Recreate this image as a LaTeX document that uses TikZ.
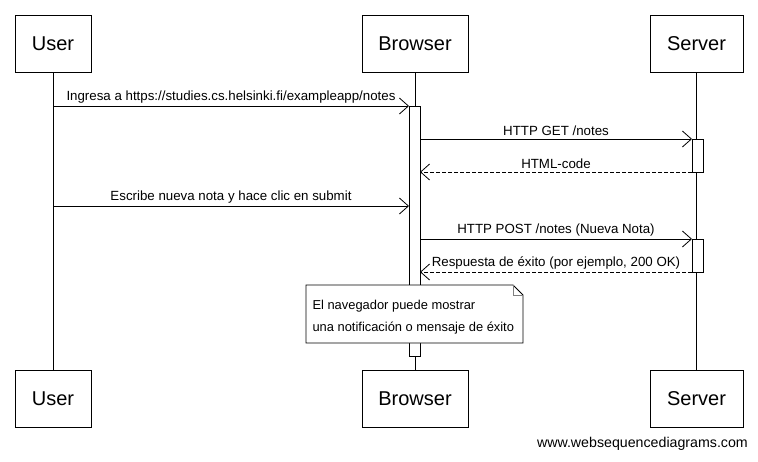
\documentclass[tikz,border=0pt]{standalone}
\usepackage{fontspec}
\setmainfont{Liberation Sans}
\usetikzlibrary{arrows.meta, positioning}

\begin{document}
\begin{tikzpicture}[
		x=1pt, y=-1pt,
		every node/.style={font=\fontsize{13.3}{16}\selectfont},
		actor/.style={draw, line width=0.8pt, minimum height=57pt, inner sep=0pt, font=\fontsize{20}{24}\selectfont},
		life/.style={line width=0.8pt},
		act/.style={draw, fill=white, line width=0.8pt, minimum width=11pt, inner sep=0pt},
		msg/.style={-{Straight Barb[length=9pt, width=16pt]}, line width=0.8pt},
		reply/.style={msg, dash pattern=on 4pt off 2pt},
		lbl/.style={above, inner sep=2.5pt}
		]
		
		\useasboundingbox (0,0) rectangle (758,461);
		
		% === PARTICIPANTS ===
		
		% Top row
		\node [actor, minimum width=76pt] (userTop) at (53,43.5) {User};
		\node [actor, minimum width=106pt] (browserTop) at (415,43.5) {Browser};
		\node [actor, minimum width=93pt] (serverTop) at (696.5,43.5) {Server};
		
		% Bottom row
		\node [actor, minimum width=76pt] (userBot) at (53,398.5) {User};
		\node [actor, minimum width=106pt] (browserBot) at (415,398.5) {Browser};
		\node [actor, minimum width=93pt] (serverBot) at (696.5,398.5) {Server};
		
		% === LIFELINES ===
		\draw[life] (userTop) -- (userBot);
		\draw[life] (browserTop) -- (browserBot);
		\draw[life] (serverTop) -- (serverBot);
		
		% === ACTIVATIONS ===
		\node [act, minimum height=250pt] (browserAct) at (414.5,231) {};
		\node [act, minimum height=33pt] (serverAct1) at (697.5,155.5) {};
		\node [act, minimum height=33pt] (serverAct2) at (697.5,255.5) {};
		
		% === MESSAGE END POINTS ===
		\coordinate (m1a) at (53,106);   \coordinate (m1b) at (409,106);
		\coordinate (m2a) at (420,139);  \coordinate (m2b) at (692,139);
		\coordinate (m3a) at (692,172);  \coordinate (m3b) at (420,172);
		\coordinate (m4a) at (53,206);   \coordinate (m4b) at (409,206);
		\coordinate (m5a) at (420,239);  \coordinate (m5b) at (692,239);
		\coordinate (m6a) at (692,272);  \coordinate (m6b) at (420,272);
		
		% === MESSAGES ===
		\draw[msg] (m1a) -- node[lbl] {Ingresa a https://studies.cs.helsinki.fi/exampleapp/notes} (m1b);
		\draw[msg] (m2a) -- node[lbl] {HTTP GET /notes} (m2b);
		\draw[reply] (m3a) -- node[lbl] {HTML-code} (m3b);
		\draw[msg] (m4a) -- node[lbl] {Escribe nueva nota y hace clic en submit} (m4b);
		\draw[msg] (m5a) -- node[lbl] {HTTP POST /notes (Nueva Nota)} (m5b);
		\draw[reply] (m6a) -- node[lbl] {Respuesta de éxito (por ejemplo, 200 OK)} (m6b);
		
		% === NOTE ===
		\draw[line width=0.8pt, fill=white] (306,285) -- (513,285) -- (523,295) -- (523,343) -- (306,343) -- cycle;
		\draw[line width=0.8pt, gray] (513,285) -- (513,295) -- (523,295);
		\node [anchor=west, align=left, font=\fontsize{12.9}{21.5}\selectfont] (note) at (309,317)
		{El navegador puede mostrar\\una notificación o mensaje de éxito};
		
		% === FOOTER ===
		\node [anchor=south east, inner sep=0pt, font=\fontsize{14.2}{16}\selectfont] (footer) at (748,451) {www.websequencediagrams.com};
		
\end{tikzpicture}
\end{document}
